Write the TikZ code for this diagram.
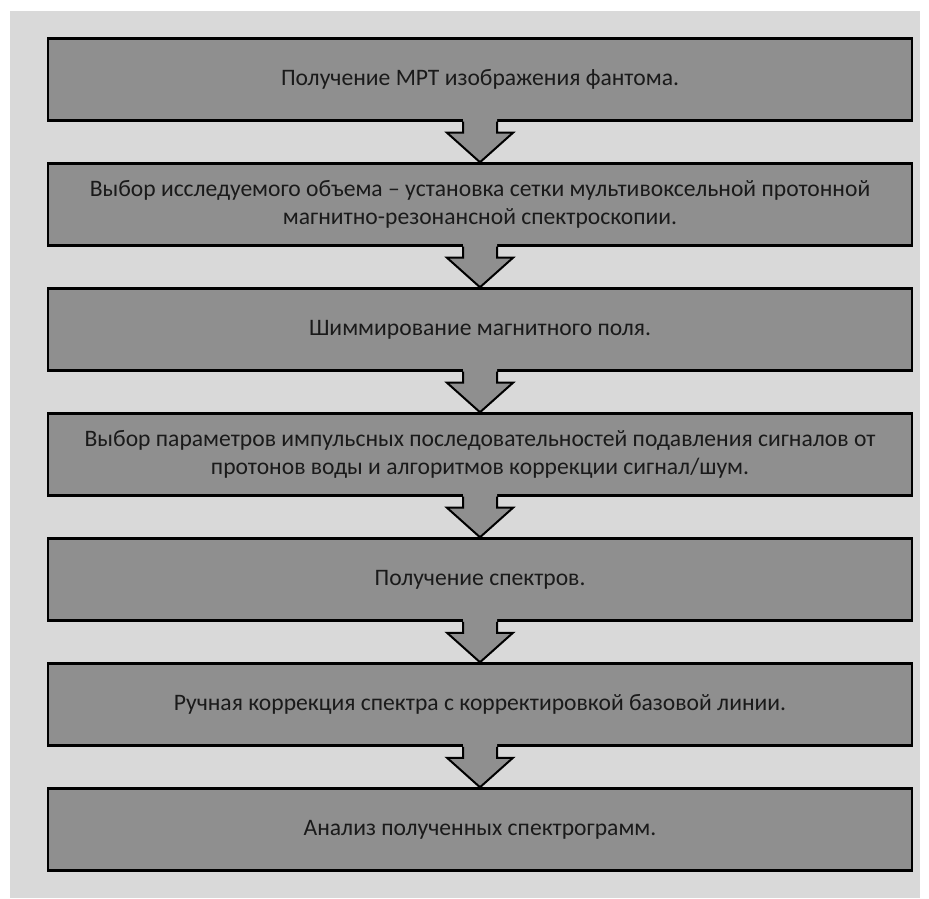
\documentclass[tikz,border=0pt]{standalone}
\usepackage{fontspec}
\setmainfont{Carlito}
\usetikzlibrary{positioning}
\definecolor{panelgray}{HTML}{D9D9D9}
\definecolor{boxgray}{HTML}{8F8F8F}
\definecolor{textgray}{HTML}{1A1A1A}

% hollow block arrow from the bottom of #1 to the top of #2
\newcommand{\stagearrow}[2]{%
	\fill[boxgray] ([xshift=-17pt,yshift=3pt]#1.south) -- ([xshift=-17pt,yshift=-11pt]#1.south)
		-- ([xshift=-33pt,yshift=-11pt]#1.south) -- (#2.north) -- ([xshift=33pt,yshift=-11pt]#1.south)
		-- ([xshift=17pt,yshift=-11pt]#1.south) -- ([xshift=17pt,yshift=3pt]#1.south) -- cycle;
	\draw[arrowline] ([xshift=-17pt]#1.south) -- ([xshift=-17pt,yshift=-11pt]#1.south)
		-- ([xshift=-33pt,yshift=-11pt]#1.south) -- (#2.north) -- ([xshift=33pt,yshift=-11pt]#1.south)
		-- ([xshift=17pt,yshift=-11pt]#1.south) -- ([xshift=17pt]#1.south);}

\begin{document}
\begin{tikzpicture}[x=1pt,y=1pt,
	stage/.style={draw=black,line width=2.5pt,fill=boxgray,minimum width=864pt,minimum height=82pt,
		align=center,text=textgray,font=\fontsize{23.6}{28}\selectfont},
	arrowline/.style={draw=black,line width=2pt,line join=miter}]
	\useasboundingbox (0,0) rectangle (929,898);
	\fill[panelgray] (10,0) rectangle (920,887);
	
	%stages
	\node[stage] (mri) at (480,818.5) {Получение МРТ изображения фантома.};
	\node[stage,below=40.5pt of mri] (grid) {Выбор исследуемого объема – установка сетки мультивоксельной протонной\\магнитно-резонансной спектроскопии.};
	\node[stage,below=40.5pt of grid] (shim) {Шиммирование магнитного поля.};
	\node[stage,below=40.5pt of shim] (param) {Выбор параметров импульсных последовательностей подавления сигналов от\\протонов воды и алгоритмов коррекции сигнал/шум.};
	\node[stage,below=40.5pt of param] (spec) {Получение спектров.};
	\node[stage,below=40.5pt of spec] (corr) {Ручная коррекция спектра с корректировкой базовой линии.};
	\node[stage,below=40.5pt of corr] (anal) {Анализ полученных спектрограмм.};
	
	%arrows
	\stagearrow{mri}{grid}
	\stagearrow{grid}{shim}
	\stagearrow{shim}{param}
	\stagearrow{param}{spec}
	\stagearrow{spec}{corr}
	\stagearrow{corr}{anal}
\end{tikzpicture}
\end{document}
